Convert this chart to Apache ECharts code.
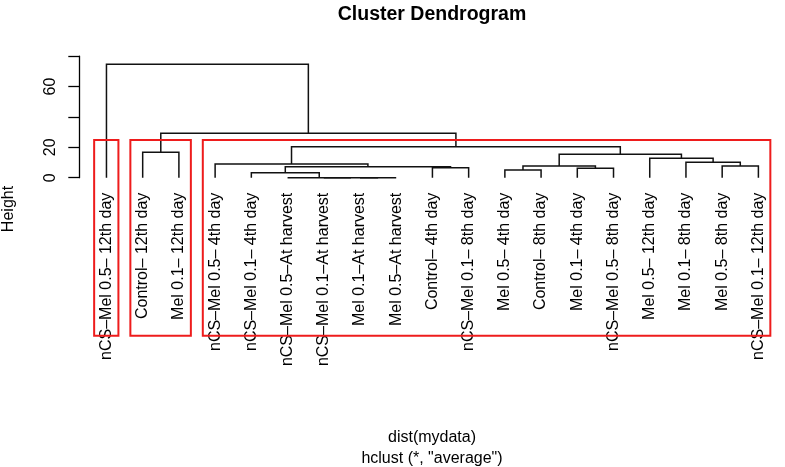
<!DOCTYPE html>
<html>
<head>
<meta charset="utf-8">
<script src="https://cdn.jsdelivr.net/npm/echarts@6/dist/echarts.min.js"></script>
<style>
  html, body { margin: 0; padding: 0; background: #fff; }
  #chart { width: 785px; height: 467px; }
</style>
</head>
<body>
<div id="chart"></div>
<script>
// leaves in dendrogram order (left to right)
const leafLabels = [
  'nCS–Mel 0.5– 12th day', 'Control– 12th day', 'Mel 0.1– 12th day',
  'nCS–Mel 0.5– 4th day', 'nCS–Mel 0.1– 4th day', 'nCS–Mel 0.5–At harvest',
  'nCS–Mel 0.1–At harvest', 'Mel 0.1–At harvest', 'Mel 0.5–At harvest',
  'Control– 4th day', 'nCS–Mel 0.1– 8th day', 'Mel 0.5– 4th day',
  'Control– 8th day', 'Mel 0.1– 4th day', 'nCS–Mel 0.5– 8th day',
  'Mel 0.5– 12th day', 'Mel 0.1– 8th day', 'Mel 0.5– 8th day',
  'nCS–Mel 0.1– 12th day'
];

// merge table like hclust: negative = leaf position, positive = earlier merge row
const mergeA = [-8, -7, -6, -5, -12, -14, -10, 4, -18, 5, -4, -17, -16, 10, -2, 11, 15, -1];
const mergeB = [-9, 1, 2, 3, -13, -15, -11, 7, -19, 6, 8, 9, 12, 13, -3, 14, 16, 17];
const mergeHeight = [0, 0, 0, 3.3, 5.0, 6.2, 6.6, 7.2, 7.7, 7.7, 9.0, 10.1, 12.8, 15.4, 16.7, 20.4, 29.2, 74.6];

// rect.hclust(k = 3) groups, by leaf position
const groupStart = [1, 2, 4];
const groupEnd = [1, 3, 19];

const yTicks = [0, 20, 40, 60, 80];
const yShown = [0, 20, 60];

const font = 'Liberation Sans, Arial, sans-serif';

// build the link segments from the merge table
const nodeX = [];
const nodeH = [];
const links = [];
function childPos(id) {
  if (id < 0) return [-id, 0];
  return [nodeX[id - 1], nodeH[id - 1]];
}
mergeA.forEach(function (a, i) {
  const pa = childPos(a);
  const pb = childPos(mergeB[i]);
  nodeX.push((pa[0] + pb[0]) / 2);
  nodeH.push(mergeHeight[i]);
  links.push([pa[0], pa[1], pb[0], pb[1], mergeHeight[i]]);
});

// box top = mean of the (k-1)th and kth highest merge heights
const k = groupStart.length;
const sortedH = mergeHeight.slice().sort(function (a, b) { return b - a; });
const boxTop = (sortedH[k - 2] + sortedH[k - 1]) / 2;
const boxBottom = -104; // bottom of plot region
const boxes = groupStart.map(function (s, i) {
  return [s - 0.34, groupEnd[i] + 0.33, boxTop, boxBottom];
});

const chart = echarts.init(document.getElementById('chart'));
chart.setOption({
  animation: false,
  backgroundColor: '#fff',
  grid: { left: 79.3, right: 8.5, top: 56.1, bottom: 289.3, containLabel: false, outerBoundsMode: 'none' },
  xAxis: {
    type: 'value',
    min: 0.25,
    max: 19.5,
    axisLine: { show: false },
    axisTick: { show: false },
    splitLine: { show: false },
    axisLabel: {
      customValues: leafLabels.map(function (_, i) { return i + 1; }),
      formatter: function (v) { return leafLabels[Math.round(v) - 1] || ''; },
      rotate: 90,
      margin: 15,
      fontSize: 16,
      fontFamily: font,
      color: '#000'
    }
  },
  yAxis: {
    type: 'value',
    min: 0,
    max: 80,
    interval: 20,
    axisLine: { show: true, lineStyle: { color: '#000', width: 1.3 } },
    axisTick: { show: true, length: 11, customValues: yTicks, lineStyle: { color: '#000', width: 1.3 } },
    splitLine: { show: false },
    axisLabel: {
      customValues: yShown,
      rotate: 90,
      margin: 21,
      fontSize: 16,
      fontFamily: font,
      color: '#000'
    }
  },
  graphic: [
    { type: 'text', x: 432, y: 15, style: { text: 'Cluster Dendrogram', font: 'bold 19.5px ' + font, fill: '#000', textAlign: 'center', textVerticalAlign: 'middle' } },
    { type: 'text', x: 9, y: 209, rotation: Math.PI / 2, style: { text: 'Height', font: '16px ' + font, fill: '#000', textAlign: 'center', textVerticalAlign: 'middle' } },
    { type: 'text', x: 432, y: 437.5, style: { text: 'dist(mydata)', font: '16px ' + font, fill: '#000', textAlign: 'center', textVerticalAlign: 'middle' } },
    { type: 'text', x: 432, y: 458.5, style: { text: 'hclust (*, "average")', font: '16px ' + font, fill: '#000', textAlign: 'center', textVerticalAlign: 'middle' } }
  ],
  series: [
    {
      type: 'custom',
      name: 'links',
      data: links,
      silent: true,
      clip: false,
      renderItem: function (params, api) {
        const p1 = api.coord([api.value(0), api.value(1)]);
        const p2 = api.coord([api.value(0), api.value(4)]);
        const p3 = api.coord([api.value(2), api.value(4)]);
        const p4 = api.coord([api.value(2), api.value(3)]);
        return {
          type: 'polyline',
          shape: { points: [p1, p2, p3, p4] },
          style: { stroke: '#111', lineWidth: 1.5, fill: null }
        };
      }
    },
    {
      type: 'custom',
      name: 'groups',
      data: boxes,
      silent: true,
      clip: false,
      renderItem: function (params, api) {
        const a = api.coord([api.value(0), api.value(2)]);
        const b = api.coord([api.value(1), api.value(3)]);
        return {
          type: 'rect',
          shape: { x: a[0], y: a[1], width: b[0] - a[0], height: b[1] - a[1] },
          style: { stroke: '#ee1c1c', lineWidth: 2, fill: null }
        };
      }
    }
  ]
});
</script>
</body>
</html>
